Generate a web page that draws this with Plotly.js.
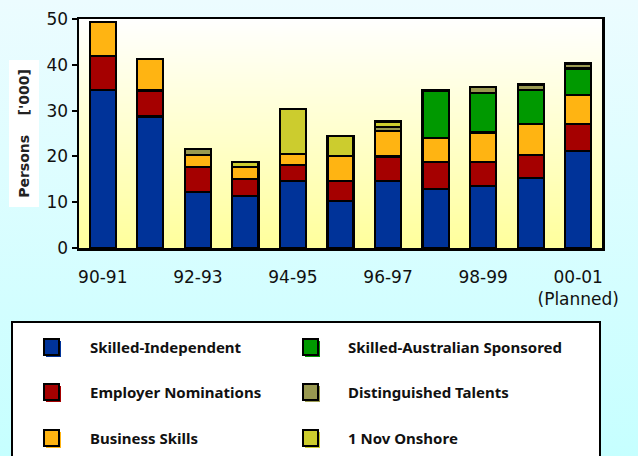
<!DOCTYPE html>
<html><head><meta charset="utf-8">
<script src="https://cdn.plot.ly/plotly-3.0.1.min.js"></script>
<style>
html,body{margin:0;padding:0;}
body{width:638px;height:456px;background:linear-gradient(to bottom,#ecfcff 0%,#c6ffff 100%);overflow:hidden;}
#chart{width:638px;height:456px;}
</style></head><body><div id="chart"></div>
<script>
const categories = ['90-91','91-92','92-93','93-94','94-95','95-96','96-97','97-98','98-99','99-00','00-01'];
const skilledIndependent = [34.5,28.7,12.2,11.3,14.7,10.2,14.7,12.9,13.6,15.3,21.1];
const employerNominations = [7.5,5.7,5.4,3.8,3.5,4.5,5.3,5.8,5.1,5.0,6.0];
const businessSkills = [7.4,6.8,2.7,2.5,2.4,5.4,5.6,5.4,6.5,6.8,6.3];
const skilledAustralianSponsored = [0,0,0,0,0,0,0,10.3,8.6,7.4,5.8];
const distinguishedTalents = [0,0,1.3,0,0,0,0.9,0,1.3,1.2,1.1];
const novOnshore = [0,0,0,1.1,9.8,4.4,1.1,0,0,0,0];
const tickValues = ['90-91','92-93','94-95','96-97','98-99','00-01'];
const tickLabels = ['90-91','92-93','94-95','96-97','98-99','00-01<br>(Planned)'];
const seriesNames = ['Skilled-Independent','Employer Nominations','Business Skills','Skilled-Australian Sponsored','Distinguished Talents','1 Nov Onshore'];
const seriesValues = [skilledIndependent, employerNominations, businessSkills, skilledAustralianSponsored, distinguishedTalents, novOnshore];
const seriesColors = ['#003399','#a50000','#ffb412','#009900','#999950','#cccc2e'];
const yTitle = "Persons&nbsp;&nbsp;&nbsp;&nbsp;['000]";

// layout geometry (pixels)
const W = 638, H = 456, L = 79, R = 36, T = 19, B = 208;
const pw = W - L - R, ph = H - T - B;
const px2x = p => (p - L) / pw;
const px2y = p => (H - B - p) / ph;

const traces = seriesValues.map((vals, i) => ({
  type: 'bar',
  name: seriesNames[i],
  x: categories,
  y: vals.map(v => v === 0 ? null : v),
  marker: {color: seriesColors[i], line: {color: '#000', width: 2.2}},
  hoverinfo: 'none'
}));

// gradient for plot area
const cv = document.createElement('canvas');
cv.width = 4; cv.height = 256;
const ctx = cv.getContext('2d');
const g = ctx.createLinearGradient(0, 0, 0, 256);
g.addColorStop(0, '#ffffff');
g.addColorStop(1, '#ffff9c');
ctx.fillStyle = g; ctx.fillRect(0, 0, 4, 256);
const gradURL = cv.toDataURL('image/png');

// manual legend (2 columns x 3 rows)
const shapes = [{
  type: 'rect', xref: 'paper', yref: 'paper',
  x0: px2x(12), x1: px2x(600), y0: px2y(322), y1: px2y(480),
  fillcolor: '#ffffff', line: {color: '#000', width: 2}, layer: 'above'
}];
const annotations = [{
  xref: 'paper', yref: 'paper', x: px2x(23.5), y: px2y(134),
  xanchor: 'center', yanchor: 'middle',
  text: yTitle, textangle: -90, showarrow: false,
  width: 144, height: 27, bgcolor: '#ffffff',
  font: {family: 'DejaVu Sans', size: 14, color: '#222', weight: 'bold'}
}];
const colX = [[44, 88], [303, 346]];
const rowY = [347, 392, 438];
seriesNames.forEach((nm, i) => {
  const col = i < 3 ? 0 : 1, row = i % 3;
  const ix = colX[col][0], tx = colX[col][1], cy = rowY[row];
  shapes.push({type: 'rect', xref: 'paper', yref: 'paper', layer: 'above',
    x0: px2x(ix + 2), x1: px2x(ix + 17), y0: px2y(cy - 6), y1: px2y(cy + 10),
    fillcolor: seriesColors[i], line: {width: 0}});
  shapes.push({type: 'rect', xref: 'paper', yref: 'paper', layer: 'above',
    x0: px2x(ix), x1: px2x(ix + 15), y0: px2y(cy - 8), y1: px2y(cy + 8),
    fillcolor: seriesColors[i], line: {color: '#000', width: 2}});
  annotations.push({xref: 'paper', yref: 'paper', x: px2x(tx), y: px2y(cy),
    xanchor: 'left', yanchor: 'middle', showarrow: false, text: nm,
    font: {family: 'Noto Sans', size: 15, color: '#111', weight: 'bold'}});
});

const layout = {
  width: W, height: H,
  margin: {l: L, r: R, t: T, b: B, pad: 0},
  paper_bgcolor: 'rgba(0,0,0,0)',
  plot_bgcolor: 'rgba(0,0,0,0)',
  barmode: 'stack',
  bargap: 0.45,
  showlegend: false,
  font: {family: 'DejaVu Sans', color: '#111'},
  xaxis: {
    type: 'category', range: [-0.5, 10.5],
    tickmode: 'array', tickvals: tickValues, ticktext: tickLabels,
    tickfont: {size: 17, color: '#111'},
    showline: true, linecolor: '#000', linewidth: 2.5, mirror: true,
    ticks: '', showgrid: false, zeroline: false, ticklabelstandoff: 12
  },
  yaxis: {
    range: [0, 50], dtick: 10, tick0: 0,
    tickfont: {size: 17, color: '#111'},
    ticks: 'outside', ticklen: 5, tickwidth: 2, tickcolor: '#000',
    showline: true, linecolor: '#000', linewidth: 2.5, mirror: true,
    showgrid: false, zeroline: false
  },
  images: [{source: gradURL, xref: 'paper', yref: 'paper', x: 0, y: 1,
    sizex: 1, sizey: 1, sizing: 'stretch', layer: 'below',
    xanchor: 'left', yanchor: 'top'}],
  shapes: shapes,
  annotations: annotations
};

Plotly.newPlot('chart', traces, layout, {displayModeBar: false, staticPlot: true});
</script></body></html>
